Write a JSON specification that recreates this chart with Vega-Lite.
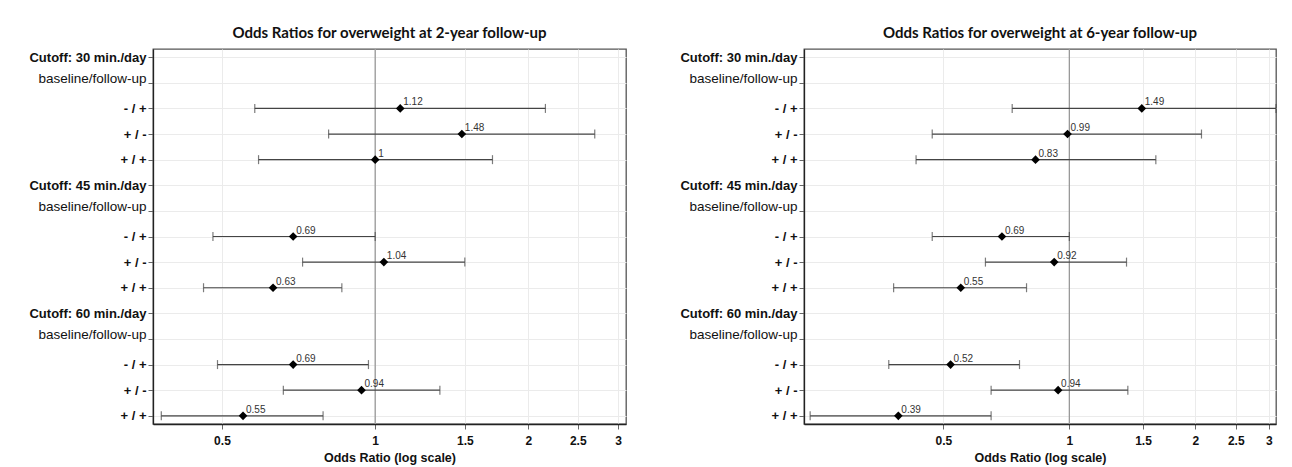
{
  "$schema": "https://vega.github.io/schema/vega-lite/v6.json",
  "padding": {"left": 5, "top": 25, "right": 5, "bottom": 0},
  "config": {
    "view": {"stroke": "#555", "strokeWidth": 1.3},
    "font": "Liberation Sans",
    "axis": {"gridColor": "#ebebeb", "gridWidth": 1, "tickColor": "#666", "domainColor": "#222", "domainWidth": 1.3, "labelColor": "#111", "titleColor": "#111"},
    "title": {"font": "Lato", "fontSize": 15, "fontWeight": "bold", "color": "#111", "frame": "group", "anchor": "middle", "baseline": "alphabetic", "offset": 7.5},
    "concat": {"spacing": 29}
  },
  "datasets": {
    "two": [
      {"key": "30#- / +", "or": 1.12, "lo": 0.58, "hi": 2.16},
      {"key": "30#+ / -", "or": 1.48, "lo": 0.81, "hi": 2.70},
      {"key": "30#+ / +", "or": 1.00, "lo": 0.59, "hi": 1.70},
      {"key": "45#- / +", "or": 0.69, "lo": 0.48, "hi": 1.00},
      {"key": "45#+ / -", "or": 1.04, "lo": 0.72, "hi": 1.50},
      {"key": "45#+ / +", "or": 0.63, "lo": 0.46, "hi": 0.86},
      {"key": "60#- / +", "or": 0.69, "lo": 0.49, "hi": 0.97},
      {"key": "60#+ / -", "or": 0.94, "lo": 0.66, "hi": 1.34},
      {"key": "60#+ / +", "or": 0.55, "lo": 0.38, "hi": 0.79}
    ],
    "six": [
      {"key": "30#- / +", "or": 1.49, "lo": 0.73, "hi": 3.12},
      {"key": "30#+ / -", "or": 0.99, "lo": 0.47, "hi": 2.07},
      {"key": "30#+ / +", "or": 0.83, "lo": 0.43, "hi": 1.61},
      {"key": "45#- / +", "or": 0.69, "lo": 0.47, "hi": 1.00},
      {"key": "45#+ / -", "or": 0.92, "lo": 0.63, "hi": 1.37},
      {"key": "45#+ / +", "or": 0.55, "lo": 0.38, "hi": 0.79},
      {"key": "60#- / +", "or": 0.52, "lo": 0.37, "hi": 0.76},
      {"key": "60#+ / -", "or": 0.94, "lo": 0.65, "hi": 1.38},
      {"key": "60#+ / +", "or": 0.39, "lo": 0.24, "hi": 0.65}
    ],
    "ref": [{"v": 1}]
  },
  "hconcat": [
    {
      "title": "Odds Ratios for overweight at 2-year follow-up",
      "width": 473,
      "height": 375,
      "layer": [
        {
          "data": {"name": "ref"},
          "mark": {"type": "rule", "color": "#999", "strokeWidth": 1.3},
          "encoding": {
            "x": {"field": "v", "type": "quantitative",
              "scale": {"type": "log", "domain": [0.366, 3.11], "nice": false, "zero": false},
              "axis": {"title": "Odds Ratio (log scale)", "values": [0.5, 1, 1.5, 2, 2.5, 3], "format": "~g", "labelFontWeight": "bold", "labelFontSize": 12, "titleFontSize": 12.5, "titleFontWeight": "bold", "tickSize": 5, "labelPadding": 6, "titlePadding": 5, "grid": true, "labelFlush": false, "labelOverlap": false}}
          }
        },
        {
          "data": {"name": "two"},
          "mark": {"type": "rule", "color": "#444", "strokeWidth": 1.2},
          "encoding": {
            "x": {"field": "lo", "type": "quantitative"},
            "x2": {"field": "hi"},
            "y": {"field": "key", "type": "ordinal",
              "scale": {"type": "point", "padding": 0.32, "domain": ["30#Cutoff: 30 min./day", "30#baseline/follow-up", "30#- / +", "30#+ / -", "30#+ / +", "45#Cutoff: 45 min./day", "45#baseline/follow-up", "45#- / +", "45#+ / -", "45#+ / +", "60#Cutoff: 60 min./day", "60#baseline/follow-up", "60#- / +", "60#+ / -", "60#+ / +"]},
              "axis": {"title": null, "labelExpr": "split(datum.value, '#')[1]",
                "labelFontSize": {"condition": {"test": "indexof(datum.value, 'baseline') >= 0", "value": 13.5}, "value": 13},
                "labelFontWeight": {"condition": {"test": "indexof(datum.value, 'baseline') >= 0", "value": "normal"}, "value": "bold"},
                "labelBaseline": {"condition": {"test": "indexof(datum.value, 'baseline') >= 0", "value": "alphabetic"}, "value": "middle"},
                "tickSize": 5, "labelPadding": 2, "minExtent": 147, "maxExtent": 147, "grid": true, "labelLimit": 200}}
          }
        },
        {
          "data": {"name": "two"},
          "mark": {"type": "tick", "color": "#444", "thickness": 1.2, "size": 9},
          "encoding": {"x": {"field": "lo", "type": "quantitative"}, "y": {"field": "key", "type": "ordinal"}}
        },
        {
          "data": {"name": "two"},
          "mark": {"type": "tick", "color": "#444", "thickness": 1.2, "size": 9},
          "encoding": {"x": {"field": "hi", "type": "quantitative"}, "y": {"field": "key", "type": "ordinal"}}
        },
        {
          "data": {"name": "two"},
          "mark": {"type": "point", "shape": "diamond", "filled": true, "size": 75, "color": "#000", "opacity": 1},
          "encoding": {"x": {"field": "or", "type": "quantitative"}, "y": {"field": "key", "type": "ordinal"}}
        },
        {
          "data": {"name": "two"},
          "mark": {"type": "text", "align": "left", "baseline": "alphabetic", "dx": 3, "dy": -3, "fontSize": 10, "color": "#333"},
          "encoding": {"x": {"field": "or", "type": "quantitative"}, "y": {"field": "key", "type": "ordinal"}, "text": {"field": "or", "type": "quantitative", "format": "~g"}}
        }
      ]
    },
    {
      "title": "Odds Ratios for overweight at 6-year follow-up",
      "width": 472,
      "height": 375,
      "layer": [
        {
          "data": {"name": "ref"},
          "mark": {"type": "rule", "color": "#999", "strokeWidth": 1.3},
          "encoding": {
            "x": {"field": "v", "type": "quantitative",
              "scale": {"type": "log", "domain": [0.232, 3.12], "nice": false, "zero": false},
              "axis": {"title": "Odds Ratio (log scale)", "values": [0.5, 1, 1.5, 2, 2.5, 3], "format": "~g", "labelFontWeight": "bold", "labelFontSize": 12, "titleFontSize": 12.5, "titleFontWeight": "bold", "tickSize": 5, "labelPadding": 6, "titlePadding": 5, "grid": true, "labelFlush": false, "labelOverlap": false}}
          }
        },
        {
          "data": {"name": "six"},
          "mark": {"type": "rule", "color": "#444", "strokeWidth": 1.2},
          "encoding": {
            "x": {"field": "lo", "type": "quantitative"},
            "x2": {"field": "hi"},
            "y": {"field": "key", "type": "ordinal",
              "scale": {"type": "point", "padding": 0.32, "domain": ["30#Cutoff: 30 min./day", "30#baseline/follow-up", "30#- / +", "30#+ / -", "30#+ / +", "45#Cutoff: 45 min./day", "45#baseline/follow-up", "45#- / +", "45#+ / -", "45#+ / +", "60#Cutoff: 60 min./day", "60#baseline/follow-up", "60#- / +", "60#+ / -", "60#+ / +"]},
              "axis": {"title": null, "labelExpr": "split(datum.value, '#')[1]",
                "labelFontSize": {"condition": {"test": "indexof(datum.value, 'baseline') >= 0", "value": 13.5}, "value": 13},
                "labelFontWeight": {"condition": {"test": "indexof(datum.value, 'baseline') >= 0", "value": "normal"}, "value": "bold"},
                "labelBaseline": {"condition": {"test": "indexof(datum.value, 'baseline') >= 0", "value": "alphabetic"}, "value": "middle"},
                "tickSize": 5, "labelPadding": 2, "minExtent": 147, "maxExtent": 147, "grid": true, "labelLimit": 200}}
          }
        },
        {
          "data": {"name": "six"},
          "mark": {"type": "tick", "color": "#444", "thickness": 1.2, "size": 9},
          "encoding": {"x": {"field": "lo", "type": "quantitative"}, "y": {"field": "key", "type": "ordinal"}}
        },
        {
          "data": {"name": "six"},
          "mark": {"type": "tick", "color": "#444", "thickness": 1.2, "size": 9},
          "encoding": {"x": {"field": "hi", "type": "quantitative"}, "y": {"field": "key", "type": "ordinal"}}
        },
        {
          "data": {"name": "six"},
          "mark": {"type": "point", "shape": "diamond", "filled": true, "size": 75, "color": "#000", "opacity": 1},
          "encoding": {"x": {"field": "or", "type": "quantitative"}, "y": {"field": "key", "type": "ordinal"}}
        },
        {
          "data": {"name": "six"},
          "mark": {"type": "text", "align": "left", "baseline": "alphabetic", "dx": 3, "dy": -3, "fontSize": 10, "color": "#333"},
          "encoding": {"x": {"field": "or", "type": "quantitative"}, "y": {"field": "key", "type": "ordinal"}, "text": {"field": "or", "type": "quantitative", "format": "~g"}}
        }
      ]
    }
  ]
}
